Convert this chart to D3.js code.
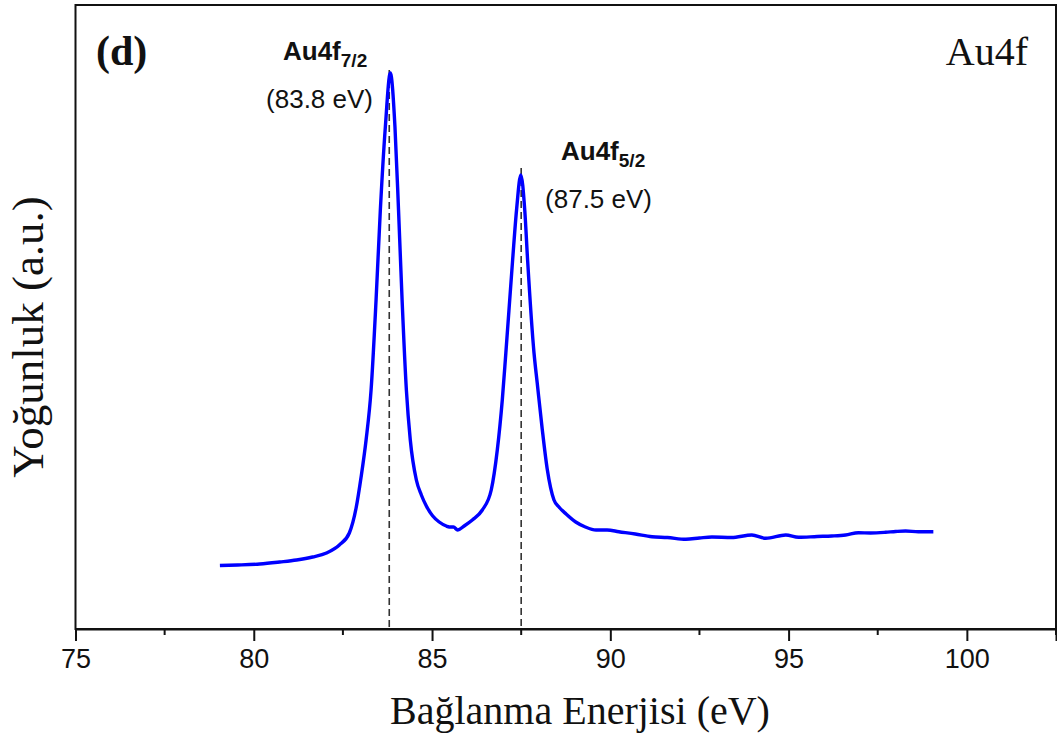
<!DOCTYPE html>
<html>
<head>
<meta charset="utf-8">
<script src="https://cdn.jsdelivr.net/npm/d3@7"></script>
<style>
  body { margin: 0; background: #fff; }
  svg { display: block; }
</style>
</head>
<body>
<div id="chart"></div>
<script>
// binding energy (eV)
var energy = [79.05, 79.55, 80.17, 80.73, 81.20, 81.65, 82.04, 82.40, 82.68, 82.87,
    83.01, 83.15, 83.29, 83.43, 83.55, 83.69, 83.83, 83.96, 84.06, 84.16,
    84.28, 84.39, 84.56, 84.70, 84.84, 85.02, 85.20, 85.40, 85.48, 85.60,
    85.72, 85.90, 86.13, 86.41, 86.66, 86.83, 86.97, 87.07, 87.26, 87.37,
    87.49, 87.60, 87.68, 87.86, 87.95, 88.09, 88.23, 88.42, 88.56, 88.76,
    89.03, 89.30, 89.60, 89.91, 90.24, 90.70, 91.17, 91.60, 92.12, 92.50,
    92.85, 93.40, 93.97, 94.36, 94.92, 95.28, 95.80, 96.21, 96.60, 96.96,
    97.30, 97.72, 98.00, 98.28, 98.64, 99.06];

// intensity (a.u.)
var intensity = [63.5, 64, 65, 67, 69, 72, 76, 84, 96, 121,
    152, 189, 239, 329, 419, 502, 556, 502, 419, 329,
    239, 189, 149, 134, 123, 113, 107, 103, 102, 102,
    99, 103, 109, 119, 139, 179, 229, 276, 369, 419,
    454, 419, 369, 276, 246, 200, 160, 129, 122, 115,
    107, 102, 99, 99, 97.3, 95, 92.3, 91.5, 89.7, 91,
    92, 91.5, 94, 90.7, 94, 91.7, 92.5, 93, 94, 96.3,
    96, 96.7, 97.5, 98, 97.3, 97.3];

var peakPos = [83.8, 87.5];
var peakTop = [559, 461];
var peakNames = ["Au4f", "Au4f"];
var peakSubs = ["7/2", "5/2"];
var peakLabels = ["(83.8 eV)", "(87.5 eV)"];

var xTicks = [75, 80, 85, 90, 95, 100];
var xMinor = [77.5, 82.5, 87.5, 92.5, 97.5, 102.5];

var width = 1057, height = 740;
var mLeft = 75.5, mRight = 1056, mTop = 5, mBottom = 629;

var svg = d3.select('#chart').append('svg')
    .attr('width', width)
    .attr('height', height);

var x = d3.scaleLinear().domain([75, 102.5]).range([mLeft, mRight]);
var y = d3.scaleLinear().domain([0, 624]).range([mBottom, mTop]);

// frame
svg.append('rect')
    .attr('x', mLeft).attr('y', mTop)
    .attr('width', mRight - mLeft).attr('height', mBottom - mTop)
    .attr('fill', 'none')
    .attr('stroke', '#111')
    .attr('stroke-width', 2);

// bottom axis
var ax = svg.append('g').attr('transform', 'translate(0,' + mBottom + ')');
ax.call(d3.axisBottom(x).tickValues(xTicks).tickSize(12).tickPadding(8).tickFormat(d3.format('d')));
ax.select('.domain').attr('stroke-width', 2).attr('stroke', '#111');
ax.selectAll('.tick line').attr('stroke-width', 2).attr('stroke', '#111');
ax.selectAll('.tick text')
    .attr('font-family', 'Liberation Sans, Arial, sans-serif')
    .attr('font-size', 27)
    .attr('fill', '#111');

ax.selectAll('.minor').data(xMinor).enter().append('line')
    .attr('class', 'minor')
    .attr('x1', d => x(d)).attr('x2', d => x(d))
    .attr('y1', 0).attr('y2', 6)
    .attr('stroke', '#111').attr('stroke-width', 2);

// dashed peak markers
svg.selectAll('.peakline').data(peakPos).enter().append('line')
    .attr('class', 'peakline')
    .attr('x1', d => x(d)).attr('x2', d => x(d))
    .attr('y1', (d, i) => y(peakTop[i])).attr('y2', mBottom)
    .attr('stroke', '#333')
    .attr('stroke-width', 1.6)
    .attr('stroke-dasharray', '7,4');

// spectrum
var pts = energy.map((e, i) => [e, intensity[i]]);
svg.append('path')
    .datum(pts)
    .attr('fill', 'none')
    .attr('stroke', '#0000ff')
    .attr('stroke-width', 3.4)
    .attr('stroke-linejoin', 'round')
    .attr('d', d3.line().curve(d3.curveMonotoneX).x(d => x(d[0])).y(d => y(d[1])));

// peak labels
var nameX = [283, 561], nameY = [60, 160];
var valX = [373, 652], valY = [108, 208];
peakPos.forEach(function (p, i) {
    var t = svg.append('text')
        .attr('x', nameX[i]).attr('y', nameY[i])
        .attr('font-family', 'Liberation Sans, Arial, sans-serif')
        .attr('font-weight', 'bold')
        .attr('font-size', 26)
        .attr('fill', '#111');
    t.append('tspan').text(peakNames[i]);
    t.append('tspan').attr('font-size', 19).attr('dy', 7).text(peakSubs[i]);

    svg.append('text')
        .attr('x', valX[i]).attr('y', valY[i])
        .attr('text-anchor', 'end')
        .attr('font-family', 'Liberation Sans, Arial, sans-serif')
        .attr('font-size', 26)
        .attr('fill', '#111')
        .text(peakLabels[i]);
});

// panel letter and element
svg.append('text')
    .attr('x', 96).attr('y', 65)
    .attr('font-family', 'Liberation Serif, Times New Roman, serif')
    .attr('font-weight', 'bold')
    .attr('font-size', 42)
    .attr('fill', '#111')
    .text('(d)');

svg.append('text')
    .attr('x', 1028).attr('y', 65)
    .attr('text-anchor', 'end')
    .attr('font-family', 'Liberation Serif, Times New Roman, serif')
    .attr('font-size', 40)
    .attr('fill', '#111')
    .text('Au4f');

// axis titles
svg.append('text')
    .attr('x', 580).attr('y', 724)
    .attr('text-anchor', 'middle')
    .attr('font-family', 'Liberation Serif, Times New Roman, serif')
    .attr('font-size', 40)
    .attr('fill', '#111')
    .text('Bağlanma Enerjisi (eV)');

svg.append('text')
    .attr('transform', 'translate(43,' + ((mTop + mBottom) / 2 + 20) + ') rotate(-90)')
    .attr('text-anchor', 'middle')
    .attr('font-family', 'Liberation Serif, Times New Roman, serif')
    .attr('font-size', 45)
    .attr('fill', '#111')
    .text('Yoğunluk (a.u.)');
</script>
</body>
</html>
